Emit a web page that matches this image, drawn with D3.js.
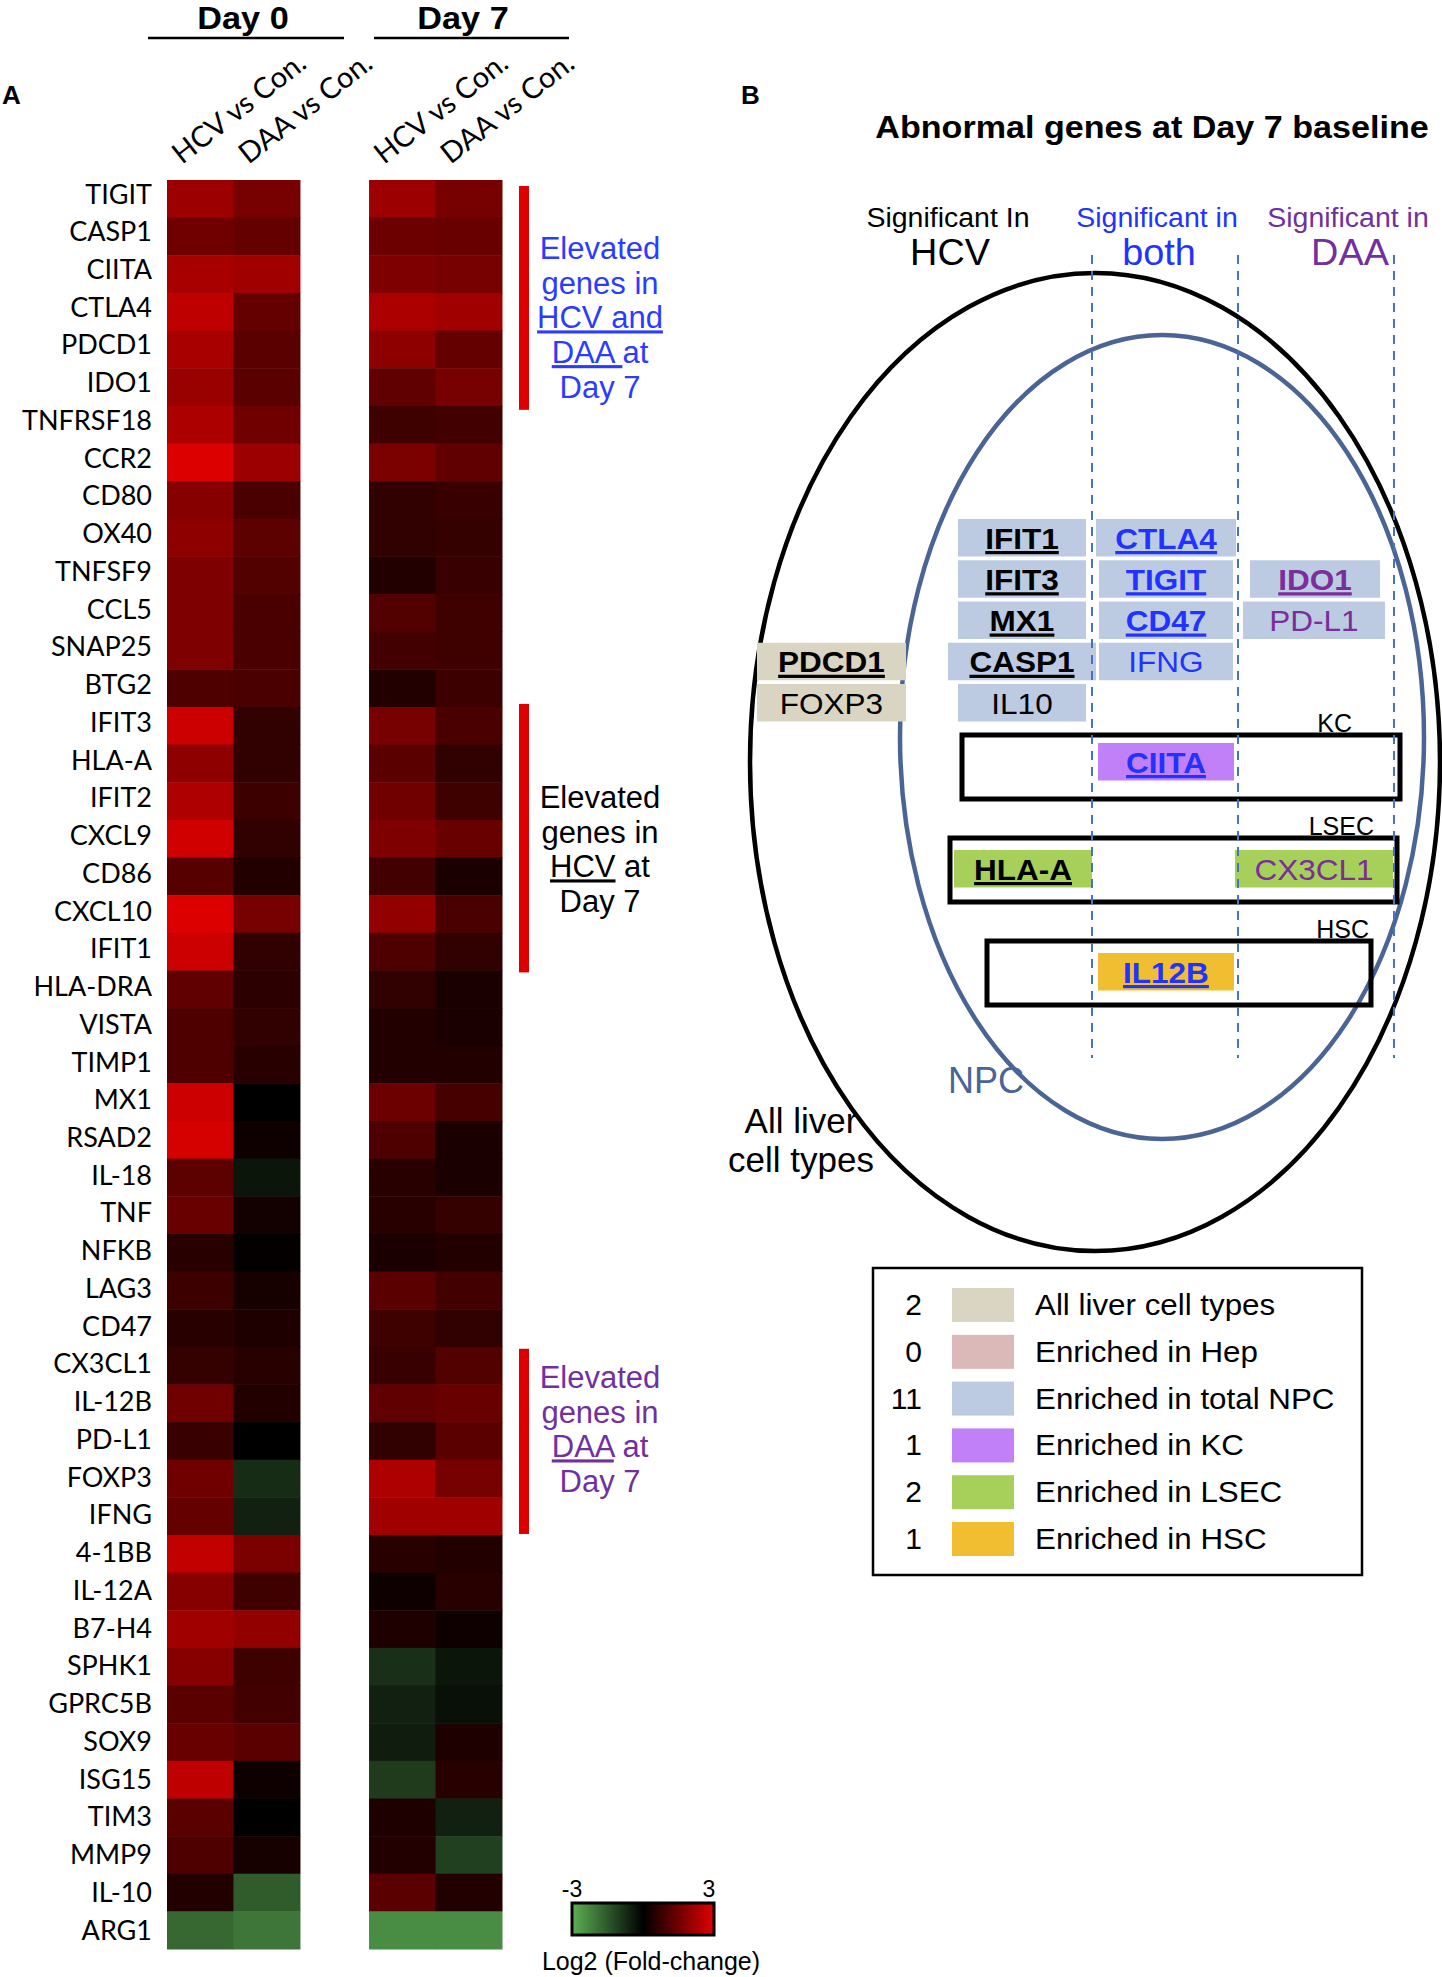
<!DOCTYPE html>
<html><head><meta charset="utf-8">
<script src="https://cdn.jsdelivr.net/npm/d3@7"></script>
<style>
body{margin:0;background:#fff;}
svg{display:block;}
</style></head><body>
<svg id="fig" width="1442" height="1977"></svg>
<script>
// ---------------- DATA ----------------
const genes = ["TIGIT","CASP1","CIITA","CTLA4","PDCD1","IDO1","TNFRSF18","CCR2","CD80","OX40","TNFSF9","CCL5","SNAP25","BTG2","IFIT3","HLA-A","IFIT2","CXCL9","CD86","CXCL10","IFIT1","HLA-DRA","VISTA","TIMP1","MX1","RSAD2","IL-18","TNF","NFKB","LAG3","CD47","CX3CL1","IL-12B","PD-L1","FOXP3","IFNG","4-1BB","IL-12A","B7-H4","SPHK1","GPRC5B","SOX9","ISG15","TIM3","MMP9","IL-10","ARG1"];
const day0HCV = [2.1,1.5,2.25,2.55,2.25,2.05,2.3,2.95,1.8,1.9,1.7,1.7,1.7,1.05,2.75,1.9,2.35,2.8,1.15,2.95,2.75,1.3,1.05,1.05,2.75,2.85,1.25,1.4,0.55,0.8,0.55,0.7,1.5,0.75,1.5,1.35,2.6,1.8,2.15,1.8,1.2,1.4,2.55,1.2,1.05,0.45,-1.76];
const day0DAA = [1.6,1.35,2.15,1.35,1.2,1.2,1.5,2.1,1.0,1.25,1.1,1.0,1.0,1.0,0.65,0.65,0.8,0.65,0.45,1.6,0.65,0.6,0.65,0.55,0.0,0.2,-0.35,0.25,0.05,0.3,0.4,0.55,0.45,0.0,-0.75,-0.55,1.65,0.85,1.95,0.85,0.9,1.2,0.2,0.0,0.3,-1.56,-2.0];
const day7HCV = [2.1,1.45,1.7,2.3,1.9,1.3,0.85,1.65,0.65,0.65,0.45,1.1,0.9,0.45,1.6,1.2,1.5,1.7,0.9,1.95,1.05,0.65,0.45,0.45,1.45,1.05,0.55,0.55,0.35,1.2,0.85,0.75,1.3,0.65,2.35,2.15,0.55,0.2,0.4,-0.8,-0.55,-0.48,-1.0,0.4,0.45,1.2,-2.37];
const day7DAA = [1.6,1.4,1.6,2.15,1.35,1.6,0.9,1.3,0.75,0.7,0.75,0.85,0.85,0.8,1.0,0.65,0.85,1.4,0.35,1.0,0.65,0.35,0.35,0.45,0.95,0.35,0.35,0.7,0.45,0.9,0.65,1.1,1.4,1.2,1.6,2.15,0.45,0.55,0.2,-0.35,-0.27,0.4,0.55,-0.55,-1.08,0.45,-2.37];
const days = ["Day 0","Day 7"];
const comparisons = ["HCV vs Con.","DAA vs Con."];
const colorTicks = [-3, 3];
const colorTitle = "Log2 (Fold-change)";

// annotation groups (first gene, last gene, lines, colour)
const annoFirst = ["TIGIT","IFIT3","CX3CL1"];
const annoLast  = ["IDO1","IFIT1","IFNG"];
const annoLines = [
  [["Elevated"],["genes in"],["HCV and|u"],["DAA |u","at"],["Day 7"]],
  [["Elevated"],["genes in"],["HCV|u"," at"],["Day 7"]],
  [["Elevated"],["genes in"],["DAA|u"," at"],["Day 7"]]
];
const annoColors = ["#2b3bff","#000000","#7030a0"];

// Panel B
const bTitle = "Abnormal genes at Day 7 baseline";
const sigGroups = ["HCV","both","DAA"];
const sigTop = ["Significant In","Significant in","Significant in"];
const sigColors = ["#000000","#2233ff","#7030a0"];
const bGenes    = ["IFIT1","IFIT3","MX1","CASP1","IL10","CTLA4","TIGIT","CD47","IFNG","IDO1","PD-L1","PDCD1","FOXP3","CIITA","HLA-A","CX3CL1","IL12B"];
const bSignif   = ["HCV","HCV","HCV","HCV","HCV","both","both","both","both","DAA","DAA","HCV","HCV","both","HCV","DAA","both"];
const bCellType = ["NPC","NPC","NPC","NPC","NPC","NPC","NPC","NPC","NPC","NPC","NPC","All","All","KC","LSEC","LSEC","HSC"];
const bEmph     = [1,1,1,1,0,1,1,1,0,1,0,1,0,1,1,0,1];
const legendKeys   = ["All","Hep","NPC","KC","LSEC","HSC"];
const legendLabels = ["All liver cell types","Enriched in Hep","Enriched in total NPC","Enriched in KC","Enriched in LSEC","Enriched in HSC"];
const legendColors = ["#d9d5c2","#dbb9b9","#bccbe2","#c180f7","#a7d05a","#f0be30"];

// ---------------- DRAW ----------------
const ARIAL = "'Liberation Sans', Arial, sans-serif";
const CAL = "Lato, 'Open Sans', sans-serif";
const svg = d3.select("#fig");
function stretch(sel, f){ const n = sel.node(); const L = n.getComputedTextLength(); sel.attr("textLength", L*f).attr("lengthAdjust","spacingAndGlyphs"); return sel; }

// ===== Panel A =====
const valueSets = [[day0HCV, day0DAA],[day7HCV, day7DAA]];
const xDay = d3.scaleBand().domain(days).range([167,502]).paddingInner(0.342).paddingOuter(0);
const xCmp = d3.scaleBand().domain(comparisons).range([0, xDay.bandwidth()]);
const y = d3.scaleBand().domain(genes).range([180,1949]);
const yLab = d3.scalePoint().domain(genes).range([194,1930]);
const color = d3.scaleLinear().domain([-3,0,3]).range(["#5db155","#000000","#e00000"]).clamp(true);

const cells = [];
days.forEach((d,i)=>comparisons.forEach((c,j)=>genes.forEach((g,k)=>cells.push({day:d,cmp:c,gene:g,v:valueSets[i][j][k]}))));
svg.append("g").selectAll("rect").data(cells).join("rect")
  .attr("x", d=>xDay(d.day)+xCmp(d.cmp))
  .attr("y", d=>y(d.gene))
  .attr("width", xCmp.bandwidth()+0.5)
  .attr("height", y.bandwidth()+0.5)
  .attr("fill", d=>color(d.v));

// gene labels
svg.append("g").selectAll("text").data(genes).join("text")
  .attr("x",152).attr("y",d=>yLab(d)+9.5)
  .attr("text-anchor","end").attr("font-family",CAL).attr("font-size",27)
  .text(d=>d);

// column labels
days.forEach(d=>comparisons.forEach(c=>{
  const x0 = xDay(d)+xCmp(c)+15;
  svg.append("text").attr("transform",`translate(${x0},165) rotate(-38)`)
    .attr("font-family",CAL).attr("font-size",29).text(c);
}));

// Day headers
const dayHdrX = [243,463];
const dayLine = [[148,344],[374,569]];
days.forEach((d,i)=>{
  stretch(svg.append("text").attr("x",dayHdrX[i]).attr("y",29).attr("text-anchor","middle")
    .attr("font-family",ARIAL).attr("font-weight","bold").attr("font-size",32).text(d), 1.07);
  svg.append("line").attr("x1",dayLine[i][0]).attr("x2",dayLine[i][1]).attr("y1",38).attr("y2",38)
    .attr("stroke","#000").attr("stroke-width",2.5);
});
svg.append("text").attr("x",2).attr("y",104).attr("font-family",ARIAL).attr("font-weight","bold").attr("font-size",26).text("A");

// red bars + annotations
const barPadTop = [6,-3,2], barPadBot = [4,2,-1];
const annoBase = [259, 808, 1388];
annoFirst.forEach((g,i)=>{
  const y0 = y(g)+barPadTop[i], y1 = y(annoLast[i])+y.bandwidth()+barPadBot[i];
  svg.append("rect").attr("x",519).attr("y",y0).attr("width",10).attr("height",y1-y0).attr("fill","#dd0000");
  annoLines[i].forEach((parts,li)=>{
    const t = svg.append("text").attr("x",600).attr("y",annoBase[i]+li*34.7).attr("text-anchor","middle")
      .attr("font-family",ARIAL).attr("font-size",31).attr("fill",annoColors[i]).attr("xml:space","preserve");
    parts.forEach(p=>{
      const u = p.endsWith("|u");
      t.append("tspan").text(u?p.slice(0,-2):p).style("text-decoration",u?"underline":"none");
    });
  });
});

// colour bar
const defs = svg.append("defs");
const grad = defs.append("linearGradient").attr("id","cbar");
d3.range(0,1.0001,0.1).forEach(f=>grad.append("stop").attr("offset",f).attr("stop-color",color(-3+6*f)));
const xc = d3.scaleLinear().domain([-3,3]).range([572,714]);
svg.append("rect").attr("x",xc(-3)).attr("y",1903).attr("width",xc(3)-xc(-3)).attr("height",32)
  .attr("fill","url(#cbar)").attr("stroke","#000").attr("stroke-width",3);
colorTicks.forEach((t,i)=>svg.append("text").attr("x",xc(t)+(i?-5:0)).attr("y",1897).attr("text-anchor","middle")
  .attr("font-family",ARIAL).attr("font-size",23).text(t));
svg.append("text").attr("x",651).attr("y",1970).attr("text-anchor","middle").attr("font-family",ARIAL).attr("font-size",25).text(colorTitle);

// ===== Panel B =====
svg.append("text").attr("x",741).attr("y",104).attr("font-family",ARIAL).attr("font-weight","bold").attr("font-size",26).text("B");
stretch(svg.append("text").attr("x",1152).attr("y",138).attr("text-anchor","middle").attr("font-family",ARIAL).attr("font-weight","bold").attr("font-size",31).text(bTitle), 1.1);

const sigCenter = d3.scaleOrdinal().domain(sigGroups).range([948,1157,1348]);
sigGroups.forEach((s,i)=>{
  stretch(svg.append("text").attr("x",sigCenter(s)).attr("y",227).attr("text-anchor","middle").attr("font-family",ARIAL).attr("font-size",27).attr("fill",sigColors[i]).text(sigTop[i]), 1.055);
  stretch(svg.append("text").attr("x",sigCenter(s)+2).attr("y",265).attr("text-anchor","middle").attr("font-family",ARIAL).attr("font-size",36).attr("fill",sigColors[i]).text(s), 1.05);
});

// ellipses
svg.append("ellipse").attr("cx",1095).attr("cy",762).attr("rx",345).attr("ry",489).attr("fill","none").attr("stroke","#000").attr("stroke-width",4.5);
svg.append("ellipse").attr("cx",1162).attr("cy",737).attr("rx",262).attr("ry",402).attr("fill","none").attr("stroke","#4a6595").attr("stroke-width",4.5);
svg.append("text").attr("x",948).attr("y",1093).attr("font-family",ARIAL).attr("font-size",36).attr("fill","#4a6595").text("NPC");
svg.append("text").attr("x",801).attr("y",1133).attr("text-anchor","middle").attr("font-family",ARIAL).attr("font-size",35).text("All liver");
svg.append("text").attr("x",801).attr("y",1172).attr("text-anchor","middle").attr("font-family",ARIAL).attr("font-size",35).text("cell types");

// cell-type boxes
const ctBoxes = ["KC","LSEC","HSC"];
const ctX = d3.scaleOrdinal().domain(ctBoxes).range([[962,1400],[950,1397],[987,1371]]);
const ctY = d3.scaleOrdinal().domain(ctBoxes).range([735,838,941]);
const ctLabelX = d3.scaleOrdinal().domain(ctBoxes).range([1352,1374,1369]);
ctBoxes.forEach(k=>{
  const [x0,x1] = ctX(k);
  svg.append("rect").attr("x",x0).attr("y",ctY(k)).attr("width",x1-x0).attr("height",64)
    .attr("fill","none").attr("stroke","#000").attr("stroke-width",5);
  svg.append("text").attr("x",ctLabelX(k)).attr("y",ctY(k)-3).attr("text-anchor","end").attr("font-family",ARIAL).attr("font-size",25).text(k);
});

// gene boxes
const laneNPC = d3.scaleOrdinal().domain(sigGroups.concat(["All"])).range([[958,1086],[1099,1233],[1250,1380],[757,906]]);
const laneCT  = d3.scaleOrdinal().domain(sigGroups).range([[954,1092],[1098,1234],[1235,1393]]);
const stackStart = {"NPC|HCV":0,"NPC|both":0,"NPC|DAA":1,"All|HCV":3};
const yRow = d3.scaleLinear().domain([0,4]).range([519,684]);
const ctColor = d3.scaleOrdinal().domain(legendKeys).range(legendColors);
const counters = {};
const gb = svg.append("g");
bGenes.forEach((g,i)=>{
  const ct = bCellType[i], sg = bSignif[i];
  let x0,x1,top;
  if (ct==="NPC" || ct==="All"){
    const key = ct+"|"+sg;
    counters[key] = (counters[key]||0);
    top = yRow(stackStart[key] + counters[key]);
    counters[key]++;
    [x0,x1] = ct==="All" ? laneNPC("All") : laneNPC(sg);
    if (g==="CASP1"){x0-=10;x1+=10;}
    if (g==="CTLA4"){x0-=3;x1+=3;}
    if (g==="PD-L1"){x0-=7;x1+=5;}
  } else {
    top = ctY(ct)+ (ct==="KC"?8:12);
    [x0,x1] = laneCT(sg);
  }
  gb.append("rect").attr("x",x0).attr("y",top).attr("width",x1-x0).attr("height",37.5).attr("fill",ctColor(ct));
  const tc = ct==="All"||sg==="HCV" ? "#000" : (sg==="both" ? "#2233ff" : "#7a2e9a");
  const t = gb.append("text").attr("x",(x0+x1)/2).attr("y",top+29.5).attr("text-anchor","middle")
    .attr("font-family",ARIAL).attr("font-size",30).attr("font-weight",bEmph[i]?"bold":"normal").attr("fill",tc).text(g);
  stretch(t, 1.05);
  if (bEmph[i]){
    const bb = t.node().getBBox();
    gb.append("rect").attr("x",bb.x).attr("y",top+32).attr("width",bb.width).attr("height",3.2).attr("fill",tc);
  }
});

// dashed separators
[1092,1238,1394].forEach(x=>svg.append("line").attr("x1",x).attr("x2",x).attr("y1",255).attr("y2",1058)
  .attr("stroke","#4472c4").attr("stroke-width",2).attr("stroke-dasharray","9,7"));

// legend
const counts = d3.rollup(bCellType, v=>v.length, d=>d);
const lg = svg.append("g");
lg.append("rect").attr("x",873).attr("y",1268).attr("width",489).attr("height",307).attr("fill","none").attr("stroke","#000").attr("stroke-width",2.5);
const yLeg = d3.scaleLinear().domain([0,5]).range([1304,1538]);
legendKeys.forEach((k,i)=>{
  lg.append("text").attr("x",922).attr("y",yLeg(i)+11).attr("text-anchor","end").attr("font-family",ARIAL).attr("font-size",30).text(counts.get(k)||0);
  lg.append("rect").attr("x",952).attr("y",yLeg(i)-16).attr("width",62).attr("height",34).attr("fill",legendColors[i]);
  stretch(lg.append("text").attr("x",1035).attr("y",yLeg(i)+11).attr("font-family",ARIAL).attr("font-size",29).text(legendLabels[i]), 1.08);
});
</script>
</body></html>
